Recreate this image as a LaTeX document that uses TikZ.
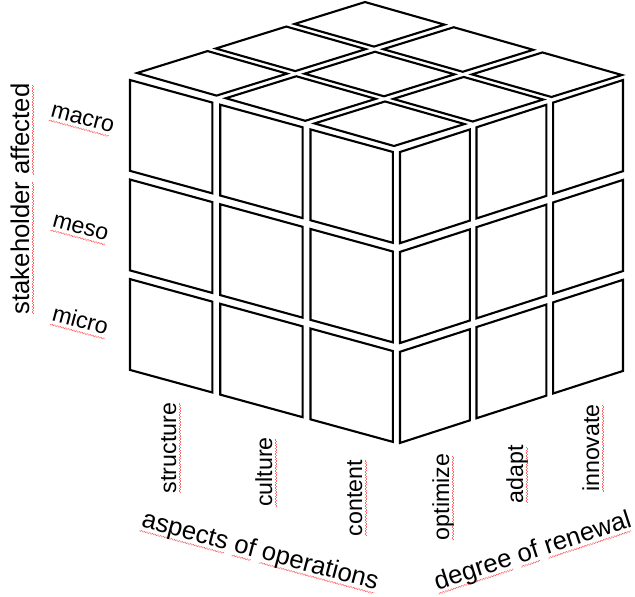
\documentclass[tikz,border=0pt]{standalone}
\usepackage{fontspec}
\setmainfont{Liberation Sans}
\usepackage{tikz}

% red wavy spell-check underline
\newcommand{\spell}[1]{\setbox0\hbox{#1}\rlap{\lower2.6pt\hbox to\wd0{\color{red!60}\leaders\hbox to 1.6pt{\rule{0.8pt}{0.45pt}\raise0.45pt\hbox{\rule{0.8pt}{0.45pt}}}\hfill}}#1}

\begin{document}
\begin{tikzpicture}[x=0.02cm, y=-0.02cm,
    facelet/.style={line width=1.2pt},
    ticklabel/.style={font=\fontsize{13.2}{15}\selectfont, inner sep=1pt},
    axislabel/.style={font=\fontsize{14.6}{17}\selectfont, inner sep=1pt}]
    \useasboundingbox (0,0) rectangle (635,596);
    % Draw left face of the cube
    \begin{scope}[shift={(130,80)}, x={(5.26cm,-1.44cm)}, y={(0cm,-5.8cm)}]
    \foreach \i in {0,1,2}
      \foreach \j in {0,1,2}
        \draw[facelet] ({\i*0.3433},{\j*0.3433}) -- ++(0.3133,0) -- ++(0,0.3133) -- ++(-0.3133,0) -- cycle;
    \end{scope}
    % Draw right face of the cube
    \begin{scope}[shift={(400,152)}, x={(4.46cm,1.44cm)}, y={(0cm,-5.82cm)}]
    \foreach \i in {0,1,2}
      \foreach \j in {0,1,2}
        \draw[facelet] ({\i*0.3433},{\j*0.3433}) -- ++(0.3133,0) -- ++(0,0.3133) -- ++(-0.3133,0) -- cycle;
    \end{scope}
    % Draw top face of the cube
    \begin{scope}[shift={(394,146)}, x={(-5.14cm,1.46cm)}, y={(4.56cm,1.42cm)}]
    \foreach \i in {0,1,2}
      \foreach \j in {0,1,2}
        \draw[facelet] ({\i*0.3453},{\j*0.3453}) -- ++(0.3093,0) -- ++(0,0.3093) -- ++(-0.3093,0) -- cycle;
    \end{scope}
    % Labels for stakeholder affected
    \node[axislabel, rotate=90] (stakeholder) at (22,199) {\spell{stakeholder} \spell{affected}};
    \node[ticklabel, rotate=-15] (macro) at (82,121) {\spell{macro}};
    \node[ticklabel, rotate=-15] (meso) at (80,230) {\spell{meso}};
    \node[ticklabel, rotate=-15] (micro) at (80,322) {\spell{micro}};
    % Labels for aspects of operations
    \node[ticklabel, rotate=90] (structure) at (171,448) {\spell{structure}};
    \node[ticklabel, rotate=90] (culture) at (266,472) {\spell{culture}};
    \node[ticklabel, rotate=90] (content) at (357,498) {\spell{content}};
    \node[axislabel, rotate=-15] (aspects) at (260,552) {\spell{aspects} \spell{of} \spell{operations}};
    % Labels for degree of renewal
    \node[ticklabel, rotate=90] (optimize) at (443,497) {\spell{optimize}};
    \node[ticklabel, rotate=90] (adapt) at (517,474) {\spell{adapt}};
    \node[ticklabel, rotate=90] (innovate) at (593,448) {\spell{innovate}};
    \node[axislabel, rotate=18] (renewal) at (533,552) {\spell{degree} \spell{of} \spell{renewal}};
\end{tikzpicture}
\end{document}
